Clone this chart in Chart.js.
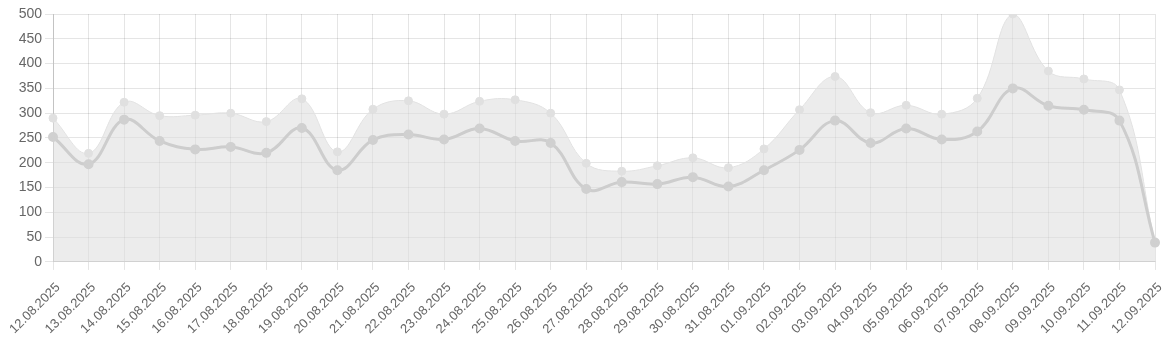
<!DOCTYPE html>
<html>
<head>
<meta charset="utf-8">
<script src="https://cdn.jsdelivr.net/npm/chart.js@4/dist/chart.umd.min.js"></script>
<style>
  body { margin: 0; background: #fff; }
  #wrap { width: 1170px; height: 342px; }
</style>
</head>
<body>
<div id="wrap"><canvas id="myChart" width="1170" height="342"></canvas></div>
<script>
// dates on the x axis
var labels = ['12.08.2025','13.08.2025','14.08.2025','15.08.2025','16.08.2025','17.08.2025','18.08.2025','19.08.2025',
  '20.08.2025','21.08.2025','22.08.2025','23.08.2025','24.08.2025','25.08.2025','26.08.2025','27.08.2025',
  '28.08.2025','29.08.2025','30.08.2025','31.08.2025','01.09.2025','02.09.2025','03.09.2025','04.09.2025',
  '05.09.2025','06.09.2025','07.09.2025','08.09.2025','09.09.2025','10.09.2025','11.09.2025','12.09.2025'];

// upper light series (filled)
var upperValues = [290,219,322,295,296,300,283,329,222,308,325,298,324,327,300,199,
  183,194,210,190,228,307,374,301,316,298,330,500,385,369,347,39];

// lower darker series
var lowerValues = [252,197,287,244,227,232,220,270,185,246,257,247,269,244,240,147,
  161,157,171,152,185,226,285,240,269,247,263,350,315,307,285,39];

var yTicks = { min: 0, max: 500, step: 50 };

Chart.defaults.font.family = "'Liberation Sans', Arial, Helvetica, sans-serif";
Chart.defaults.font.size = 14;
Chart.defaults.color = '#666';

const ctx = document.getElementById('myChart').getContext('2d');
const myChart = new Chart(ctx, {
  type: 'line',
  data: {
    labels: labels,
    datasets: [{
      data: lowerValues,
      borderColor: 'rgba(205,205,205,1)',
      backgroundColor: 'rgba(205,205,205,1)',
      pointBackgroundColor: 'rgba(208,208,208,1)',
      pointBorderColor: 'rgba(208,208,208,1)',
      borderWidth: 3,
      pointRadius: 3.5,
      tension: 0.4,
      fill: false
    }, {
      data: upperValues,
      borderColor: 'rgba(226,226,226,1)',
      backgroundColor: 'rgba(220,220,220,0.55)',
      pointBackgroundColor: 'rgba(224,224,224,1)',
      pointBorderColor: 'rgba(224,224,224,1)',
      borderWidth: 1,
      pointRadius: 4,
      tension: 0.4,
      fill: 'origin'
    }]
  },
  options: {
    responsive: false,
    animation: false,
    layout: { padding: { top: 14, right: 0, left: 0, bottom: -5 } },
    scales: {
      x: {
        grid: { color: 'rgba(0,0,0,0.1)' },
        border: { color: 'rgba(0,0,0,0.15)' },
        ticks: { maxRotation: 45, minRotation: 45, autoSkip: false, padding: 10, labelOffset: 5, font: { size: 13 }, color: '#666' },
        // keep the plot edges where the reference has them
        afterFit: function(scale) {
          scale.paddingLeft = 53;
          scale.paddingRight = 15;
        }
      },
      y: {
        min: yTicks.min,
        max: yTicks.max,
        grid: { color: 'rgba(0,0,0,0.1)' },
        border: { color: 'rgba(0,0,0,0.15)' },
        ticks: { stepSize: yTicks.step, color: '#666' }
      }
    },
    plugins: {
      legend: { display: false },
      tooltip: { enabled: false }
    }
  }
});
</script>
</body>
</html>
